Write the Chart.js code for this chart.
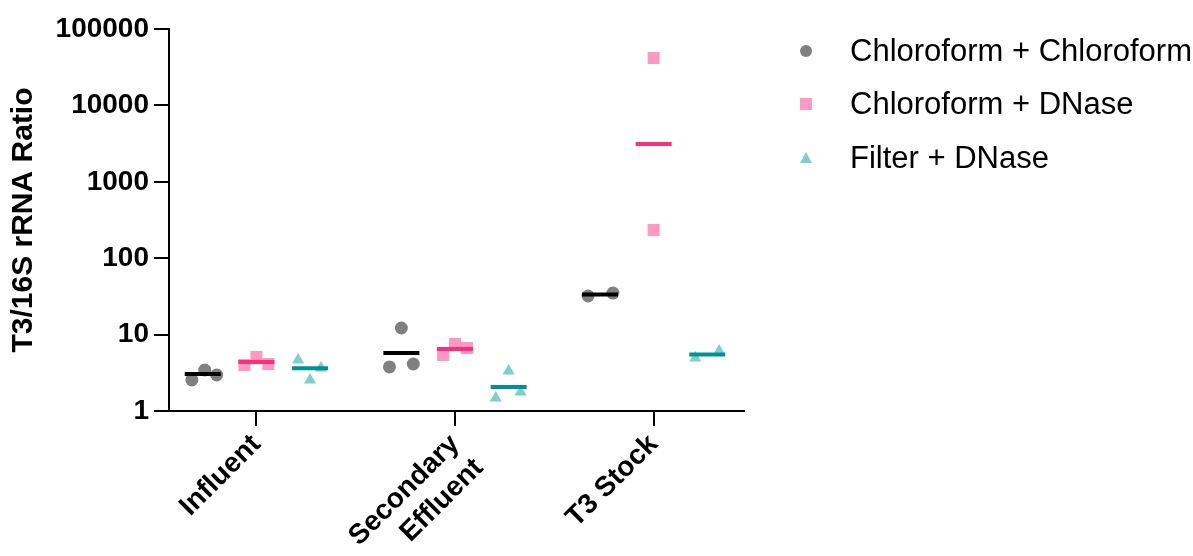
<!DOCTYPE html>
<html>
<head>
<meta charset="utf-8">
<script src="https://cdn.jsdelivr.net/npm/chart.js@4/dist/chart.umd.min.js"></script>
<style>
  body { margin: 0; background: #fff; }
  #wrap { position: relative; width: 1193px; height: 556px; }
  #legend { position: absolute; left: 0; top: 0; font-family: "Liberation Sans", Arial, sans-serif; font-size: 31px; color: #000; }
  .row { position: absolute; left: 850px; height: 40px; line-height: 40px; white-space: nowrap; }
  .mk { position: absolute; }
</style>
</head>
<body>
<div id="wrap">
  <canvas id="myChart" width="1193" height="556"></canvas>
  <div id="legend"></div>
</div>
<script>
// categories and series
const categories = [["Influent"], ["Secondary", "Effluent"], ["T3 Stock"]];
const seriesNames = ["Chloroform + Chloroform", "Chloroform + DNase", "Filter + DNase"];

// individual replicate values, one list per category
const chloroChloro = [[2.55, 3.44, 2.96], [12.2, 3.77, 4.12], [32, 35]];
const chloroDNase  = [[4.0, 5.09, 4.12], [5.41, 7.53, 6.68], [41700, 234]];
const filterDNase  = [[4.65, 2.55, 3.65], [3.34, 1.48, 1.77], [4.94, 6.1]];

// horizontal scatter (jitter) of the replicates, in category units
const jitterCC = [[-0.055, 0.01, 0.07], [0, -0.06, 0.06], [-0.06, 0.065]];
const jitterCD = [[-0.06, 0, 0.06], [-0.06, 0, 0.06], [0, 0]];
const jitterFD = [[-0.06, 0, 0.055], [0, -0.065, 0.06], [-0.06, 0.06]];

// mean lines
const meanCC = [3.05, 5.74, 33.5];
const meanCD = [4.38, 6.48, 3126];
const meanFD = [3.62, 2.06, 5.49];

const yTicks = [1, 10, 100, 1000, 10000, 100000];
const groupOffset = [-0.27, 0, 0.27];

const pointColors = ["#808080", "#ff99c4", "#7fcfcf"];
const lineColors = ["#000000", "#ff2d7a", "#009191"];
const shapes = ["circle", "rect", "triangle"];
const radii = [6.5, 8.5, 7];

function points(vals, jitter, g) {
    let out = [];
    for (let i = 0; i < vals.length; i++) {
        for (let j = 0; j < vals[i].length; j++) {
            out.push({x: i + groupOffset[g] + jitter[i][j], y: vals[i][j]});
        }
    }
    return out;
}

function means(vals, g) {
    return vals.map((v, i) => ({x: i + groupOffset[g], y: v}));
}

const allVals = [chloroChloro, chloroDNase, filterDNase];
const allJitter = [jitterCC, jitterCD, jitterFD];
const allMeans = [meanCC, meanCD, meanFD];

let datasets = [];
for (let g = 0; g < 3; g++) {
    datasets.push({
        label: seriesNames[g],
        data: points(allVals[g], allJitter[g], g),
        pointStyle: shapes[g],
        pointRadius: radii[g],
        backgroundColor: pointColors[g],
        borderColor: pointColors[g],
        borderWidth: 0,
        order: 2
    });
}
for (let g = 0; g < 3; g++) {
    datasets.push({
        label: seriesNames[g] + " mean",
        data: means(allMeans[g], g),
        pointStyle: "line",
        pointRadius: 18,
        borderColor: lineColors[g],
        backgroundColor: lineColors[g],
        borderWidth: 4,
        order: 1
    });
}

const tickFont = {family: "'Liberation Sans', Arial, sans-serif", size: 28, weight: "bold"};

new Chart("myChart", {
    type: "scatter",
    data: {datasets: datasets},
    options: {
        responsive: false,
        animation: false,
        layout: {padding: {top: 29, right: 449, bottom: 0, left: 0}},
        plugins: {
            legend: {display: false},
            tooltip: {enabled: false}
        },
        scales: {
            x: {
                type: "linear",
                min: -0.44,
                max: 2.455,
                afterBuildTicks: function(scale) {
                    scale.ticks = categories.map((c, i) => ({value: i}));
                },
                afterFit: function(scale) { scale.height = 145; },
                ticks: {
                    autoSkip: false,
                    maxRotation: 45,
                    minRotation: 45,
                    padding: 2,
                    color: "#000",
                    font: tickFont,
                    callback: function(v) { return categories[v]; }
                },
                grid: {display: true, drawOnChartArea: false, drawTicks: true, tickLength: 15, color: "#000", lineWidth: 2},
                border: {display: true, color: "#000", width: 2}
            },
            y: {
                type: "logarithmic",
                min: 1,
                max: 100000,
                afterBuildTicks: function(scale) {
                    scale.ticks = yTicks.map(v => ({value: v}));
                },
                afterFit: function(scale) { scale.width = 169; },
                ticks: {
                    padding: 5,
                    color: "#000",
                    font: tickFont,
                    callback: function(v) { return String(v); }
                },
                title: {
                    display: true,
                    text: "T3/16S rRNA Ratio",
                    color: "#000",
                    font: {family: "'Liberation Sans', Arial, sans-serif", size: 30, weight: "bold"},
                    padding: {top: 6, bottom: 0}
                },
                grid: {display: true, drawOnChartArea: false, drawTicks: true, tickLength: 15, color: "#000", lineWidth: 2},
                border: {display: true, color: "#000", width: 2}
            }
        }
    }
});

// legend drawn as html next to the plot
let legendRef = document.getElementById("legend");
let rowY = [51, 104, 158];
for (let g = 0; g < 3; g++) {
    let row = document.createElement("div");
    row.className = "row";
    row.style.top = (rowY[g] - 20) + "px";
    row.textContent = seriesNames[g];
    legendRef.appendChild(row);

    let mk = document.createElement("div");
    mk.className = "mk";
    if (g == 0) {
        mk.style.cssText = "left:800px;top:" + (rowY[g] - 6) + "px;width:12px;height:12px;border-radius:50%;background:" + pointColors[g];
    } else if (g == 1) {
        mk.style.cssText = "left:800px;top:" + (rowY[g] - 6) + "px;width:12px;height:12px;background:" + pointColors[g];
    } else {
        mk.style.cssText = "left:800px;top:" + (rowY[g] - 6) + "px;width:0;height:0;border-left:6px solid transparent;border-right:6px solid transparent;border-bottom:11px solid " + pointColors[g];
    }
    legendRef.appendChild(mk);
}
</script>
</body>
</html>
